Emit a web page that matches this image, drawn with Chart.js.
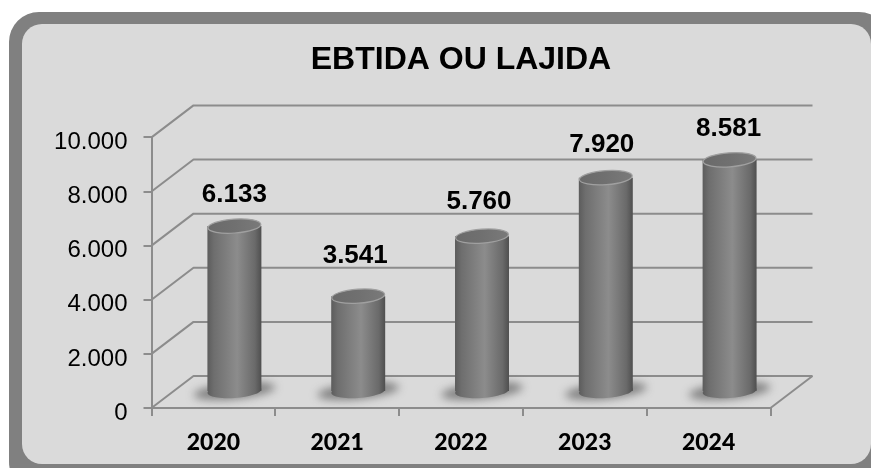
<!DOCTYPE html>
<html>
<head>
<meta charset="utf-8">
<style>html,body{margin:0;padding:0;background:#fff}#w{width:871px;height:468px;position:relative}canvas{display:block}</style>
<script src="https://cdn.jsdelivr.net/npm/chart.js@4/dist/chart.umd.min.js"></script>
</head>
<body>
<div id="w"><canvas id="c" width="871" height="468"></canvas></div>
<script>
const titleText = 'EBTIDA OU LAJIDA';
const categories = ['2020', '2021', '2022', '2023', '2024'];
const ebitda = [6133, 3541, 5760, 7920, 8581];
const valueLabels = ['6.133', '3.541', '5.760', '7.920', '8.581'];
const yTicks = {0:'0',2000:'2.000',4000:'4.000',6000:'6.000',8000:'8.000',10000:'10.000'};

const DEPTH_X = 42, DEPTH_Y = 32, GRID = '#8c8c8c';
const labelDx = [0, -3, -3, -4, -1];
const labelLift = [31, 40, 34, 33, 31];

function frontOffset(){ return {x: DEPTH_X/2, y: -DEPTH_Y/2}; }
function bodyGradient(c, b){
  const rx = b.width/2;
  const g = c.createLinearGradient(b.x-rx, 0, b.x+rx, 0);
  g.addColorStop(0,'#5c5c5c'); g.addColorStop(.12,'#6e6e6e'); g.addColorStop(.55,'#8c8c8c'); g.addColorStop(.88,'#6a6a6a'); g.addColorStop(1,'#4f4f4f');
  return g;
}

const scene = {
  id: 'scene',
  beforeDraw(chart){
    const c = chart.ctx;
    c.save();
    c.fillStyle = '#808080';
    c.beginPath(); c.roundRect(9, 12, 880, 480, 30); c.fill();
    c.fillStyle = '#dadada';
    c.beginPath(); c.roundRect(22, 24, 849, 440, 20); c.fill();
    c.restore();
  },
  beforeDatasetsDraw(chart){
    const c = chart.ctx, a = chart.chartArea, y = chart.scales.y;
    c.save();
    c.strokeStyle = GRID; c.lineWidth = 2; c.lineJoin = 'round';
    y.ticks.forEach(t => {
      const py = y.getPixelForValue(t.value);
      c.beginPath();
      c.moveTo(a.left, py);
      c.lineTo(a.left + DEPTH_X, py - DEPTH_Y);
      c.lineTo(a.right + DEPTH_X, py - DEPTH_Y);
      c.stroke();
    });
    const p0 = y.getPixelForValue(0);
    c.beginPath();
    c.moveTo(a.right, p0);
    c.lineTo(a.right + DEPTH_X, p0 - DEPTH_Y);
    c.stroke();
    const off = frontOffset();
    chart.getDatasetMeta(0).data.forEach(b => {
      b.options = Object.assign({}, b.options, {backgroundColor: bodyGradient(c, b)});
      c.save();
      c.filter = 'blur(4px)';
      c.fillStyle = 'rgba(70,70,70,0.6)';
      c.beginPath();
      c.ellipse(b.x + off.x, b.base + off.y, 41, 8, -0.1, 0, Math.PI*2);
      c.fill();
      c.restore();
    });
    c.restore();
    c.save();
    c.translate(off.x, off.y);
  },
  afterDatasetsDraw(chart){
    const c = chart.ctx;
    chart.getDatasetMeta(0).data.forEach((b, i) => {
      const rx = b.width/2, ry = 7, rot = -0.07;
      c.fillStyle = bodyGradient(c, b);
      c.beginPath();
      c.ellipse(b.x, b.base, rx, ry, rot, 0, Math.PI*2);
      c.fill();
      const h = c.createLinearGradient(b.x-rx, 0, b.x+rx, 0);
      h.addColorStop(0,'#6a6a6a'); h.addColorStop(.5,'#707070'); h.addColorStop(1,'#7a7a7a');
      c.fillStyle = h;
      c.strokeStyle = '#a0a0a0';
      c.lineWidth = 1.2;
      c.beginPath();
      c.ellipse(b.x, b.y, rx-.5, ry, rot, 0, Math.PI*2);
      c.fill(); c.stroke();
    });
    c.restore();
    const off = frontOffset();
    c.save();
    c.font = 'bold 26px "Liberation Sans", Arial, sans-serif';
    c.fillStyle = '#000';
    c.textAlign = 'center';
    c.textBaseline = 'middle';
    chart.getDatasetMeta(0).data.forEach((b, i) => {
      c.fillText(valueLabels[i], b.x + off.x + labelDx[i], b.y + off.y - labelLift[i]);
    });
    c.restore();
  }
};

new Chart(document.getElementById('c'), {
  type: 'bar',
  data: {
    labels: categories,
    datasets: [{
      data: ebitda,
      barPercentage: 0.436,
      categoryPercentage: 1,
      borderWidth: 0,
      backgroundColor: '#777777'
    }]
  },
  plugins: [scene],
  options: {
    responsive: false,
    animation: false,
    layout: {padding: {left: 0, right: 100.5, top: 0, bottom: 0}},
    plugins: {
      legend: {display: false},
      tooltip: {enabled: false},
      title: {
        display: true,
        text: titleText,
        fullSize: false,
        color: '#000',
        font: {family: '"Liberation Sans", Arial, sans-serif', size: 32, weight: 'bold', lineHeight: 1.2},
        padding: {top: 41, bottom: 58}
      }
    },
    scales: {
      x: {
        afterFit(s){ s.height = 60; },
        grid: {drawOnChartArea: false, color: GRID, lineWidth: 2, tickLength: 8},
        border: {color: GRID, width: 2},
        ticks: {color: '#000', font: {family: 'Lato, sans-serif', size: 23, weight: '900'}, padding: 13, maxRotation: 0}
      },
      y: {
        min: 0, max: 10000,
        afterFit(s){ s.width = 151.5; },
        grid: {drawOnChartArea: false, color: GRID, lineWidth: 2, tickLength: 8},
        border: {color: GRID, width: 2},
        ticks: {
          stepSize: 2000, padding: 16, color: '#000', labelOffset: 5,
          font: {family: '"Liberation Sans", Arial, sans-serif', size: 24},
          callback: v => yTicks[v]
        }
      }
    }
  }
});
</script>
</body>
</html>
